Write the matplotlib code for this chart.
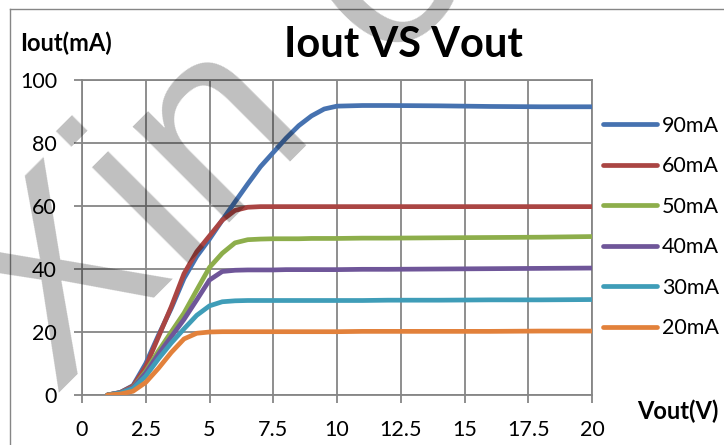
import matplotlib
matplotlib.use('Agg')
import matplotlib.pyplot as plt
from matplotlib.lines import Line2D
from matplotlib.ticker import MultipleLocator, StrMethodFormatter

# Vout (V)
vout = [1, 1.5, 2, 2.5, 3, 3.5, 4, 4.5, 5, 5.5, 6, 6.5, 7, 7.5, 8, 8.5, 9, 9.5, 10,
        11, 12, 14, 16, 18, 20]

# Iout (mA) per set current
i90 = [0, 0.8, 3, 10, 19, 27.5, 37, 44, 49.5, 55.5, 61.3, 67, 72.5, 77, 81.5, 85.5, 88.6, 90.8, 91.7,
       91.9, 91.9, 91.8, 91.6, 91.5, 91.5]
i60 = [0, 0.8, 2.8, 9, 18.5, 28, 38.5, 45.5, 50.5, 55.5, 58.6, 59.6, 59.8, 59.8, 59.8, 59.8, 59.8, 59.8, 59.8,
       59.8, 59.8, 59.8, 59.8, 59.8, 59.8]
i50 = [0, 0.7, 2.4, 7.5, 14, 20, 26, 33.3, 40.5, 45, 48.3, 49.3, 49.5, 49.6, 49.6, 49.6, 49.7, 49.7, 49.7,
       49.8, 49.8, 49.9, 50.0, 50.1, 50.3]
i40 = [0, 0.7, 2.3, 7, 13, 18.5, 24, 30.2, 36.5, 39.2, 39.6, 39.7, 39.7, 39.7, 39.8, 39.8, 39.8, 39.8, 39.8,
       39.9, 39.9, 40.0, 40.1, 40.2, 40.3]
i30 = [0, 0.6, 2, 6, 11.5, 16.5, 21, 25.3, 28.3, 29.6, 29.9, 30.0, 30.0, 30.0, 30.0, 30.0, 30.0, 30.0, 30.0,
       30.0, 30.1, 30.1, 30.2, 30.2, 30.3]
i20 = [0, 0.3, 1.2, 4, 8.5, 13.5, 17.8, 19.6, 20.0, 20.1, 20.1, 20.1, 20.1, 20.1, 20.1, 20.1, 20.1, 20.1, 20.1,
       20.2, 20.2, 20.2, 20.2, 20.3, 20.3]

series = [i90, i60, i50, i40, i30, i20]
labels = ['90mA', '60mA', '50mA', '40mA', '30mA', '20mA']
colors = ['#4672B0', '#AA4543', '#8DAE4B', '#6F5699', '#3F9DB8', '#E2813B']

plt.rcParams['font.family'] = ['Lato', 'DejaVu Sans']
grid_c = '#868686'

W, H = 724, 445
fig = plt.figure(figsize=(W / 100, H / 100), dpi=100)
ax = fig.add_axes([82 / W, 1 - 395 / H, 510 / W, 315 / H])

for y, lab, c in zip(series, labels, colors):
    ax.plot(vout, y, color=c, lw=3.4, label=lab, solid_capstyle='round', zorder=3)

ax.set_xlim(0, 20)
ax.set_ylim(0, 100)
ax.xaxis.set_major_locator(MultipleLocator(2.5))
ax.yaxis.set_major_locator(MultipleLocator(20))
ax.xaxis.set_major_formatter(StrMethodFormatter('{x:g}'))
ax.grid(True, color=grid_c, lw=1.3)
for s in ax.spines.values():
    s.set_color(grid_c)
    s.set_linewidth(1.3)
ax.tick_params(axis='both', length=6, width=1.3, color=grid_c, labelsize=15.5, pad=12)

fig.legend(loc='center left', bbox_to_anchor=(603 / W, 1 - 227 / H), frameon=False,
           fontsize=15.5, handlelength=2.5, handletextpad=0.25, labelspacing=0.95,
           borderpad=0, borderaxespad=0)

fig.text(403 / W, 1 - 45 / H, 'Iout VS Vout', ha='center', va='center', fontsize=30, weight='bold')
fig.text(20 / W, 1 - 43 / H, 'Iout(mA)', ha='left', va='center', fontsize=17, weight='bold')
fig.text(637 / W, 1 - 411 / H, 'Vout(V)', ha='left', va='center', fontsize=17, weight='bold')

# chart border
fig.add_artist(Line2D([10 / W, 1.01], [1 - 9 / H, 1 - 9 / H], color=grid_c, lw=1))
fig.add_artist(Line2D([10 / W, 10 / W], [1 - 9 / H, -0.01], color=grid_c, lw=1))

# watermark
wm = dict(rotation=45, rotation_mode='anchor', ha='left', va='baseline', fontsize=186,
          family='Liberation Sans', color='black', alpha=0.25, zorder=10)
fig.text(53 / W, 1 - 393 / H, 'Xin', **wm)
fig.text(382 / W, 1 - 64 / H, 'o', **wm)

fig.savefig('out.png', dpi=100)
